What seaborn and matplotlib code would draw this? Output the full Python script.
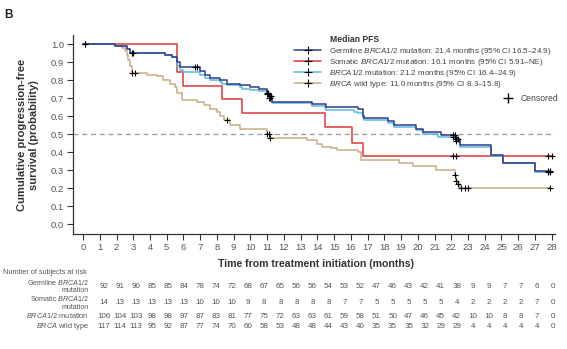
import numpy as np
import pandas as pd
import matplotlib
matplotlib.use("Agg")
import matplotlib.pyplot as plt
from matplotlib.lines import Line2D
import seaborn as sns

# ---------------- data ----------------
months = list(range(0, 29))

germ_t = [0, 1.9, 2.6, 2.8, 4.9, 5.3, 5.6, 5.8, 7.0, 7.3, 7.6, 8.2, 8.6, 9.4, 10.0, 10.5,
          11.0, 11.1, 11.3, 13.7, 14.5, 16.4, 16.7, 16.8, 18.2, 18.6, 19.9, 20.3, 21.4,
          22.3, 22.5, 24.4, 25.1, 27.0, 27.9]
germ_s = [1.0, 0.99, 0.97, 0.95, 0.94, 0.93, 0.90, 0.87, 0.85, 0.83, 0.81, 0.80, 0.78, 0.77,
          0.76, 0.75, 0.73, 0.71, 0.68, 0.665, 0.65, 0.64, 0.60, 0.59, 0.57, 0.55, 0.53, 0.51,
          0.495, 0.47, 0.44, 0.383, 0.34, 0.295, 0.295]
germ_c = [0.1, 2.9, 3.0, 6.7, 6.8, 11.0, 11.05, 11.15, 11.25, 22.1, 22.2, 22.3, 22.4, 27.8, 27.9]

soma_t = [0, 5.6, 6.0, 8.3, 9.5, 14.45, 16.1, 16.7, 28.0]
soma_s = [1.0, 0.846, 0.769, 0.692, 0.615, 0.538, 0.449, 0.377, 0.377]
soma_c = [0.1, 22.1, 22.3, 27.8, 28.0]

brca_t = [0, 1.9, 2.6, 2.8, 4.9, 5.3, 5.6, 5.8, 6.0, 7.0, 7.3, 7.6, 8.2, 8.3, 8.6, 9.4, 9.5,
          10.0, 10.5, 11.0, 11.1, 11.3, 13.7, 14.45, 14.5, 16.2, 16.4, 16.7, 16.8, 18.2, 18.6,
          19.9, 20.3, 21.2, 22.3, 22.5, 24.4, 25.1, 27.0, 27.9]
brca_s = [1.0, 0.99, 0.97, 0.95, 0.94, 0.93, 0.88, 0.855, 0.845, 0.83, 0.81, 0.80, 0.79, 0.78,
          0.77, 0.76, 0.75, 0.745, 0.74, 0.72, 0.70, 0.67, 0.655, 0.645, 0.635, 0.625, 0.615,
          0.59, 0.58, 0.56, 0.54, 0.52, 0.50, 0.485, 0.46, 0.43, 0.38, 0.34, 0.29, 0.29]
brca_c = [11.0, 11.1, 11.2, 22.1, 22.2, 22.3, 27.8, 27.9]

wild_t = [0, 1.9, 2.3, 2.5, 2.6, 2.7, 2.8, 2.9, 3.8, 4.4, 4.8, 5.2, 5.5, 5.6, 5.9, 6.8, 7.2,
          7.6, 8.0, 8.2, 8.4, 8.8, 9.4, 11.0, 11.2, 13.4, 14.0, 14.3, 14.8, 15.2, 16.4, 16.6,
          18.9, 19.7, 21.1, 22.2, 22.3, 22.4, 22.5, 27.9]
wild_s = [1.0, 0.99, 0.98, 0.96, 0.94, 0.91, 0.88, 0.84, 0.83, 0.82, 0.80, 0.78, 0.76, 0.73,
          0.69, 0.68, 0.66, 0.64, 0.62, 0.60, 0.58, 0.55, 0.53, 0.50, 0.48, 0.467, 0.445, 0.43,
          0.42, 0.41, 0.40, 0.355, 0.34, 0.32, 0.30, 0.27, 0.24, 0.22, 0.20, 0.20]
wild_c = [2.95, 3.1, 8.6, 11.0, 11.1, 11.2, 22.2, 22.3, 22.4, 22.6, 22.8, 23.0, 27.9]

risk_germ = [92, 91, 90, 85, 85, 84, 78, 74, 72, 68, 67, 65, 56, 56, 54, 53, 52, 47, 46, 43, 42,
             41, 38, 9, 9, 7, 7, 6, 0]
risk_soma = [14, 13, 13, 13, 13, 13, 10, 10, 10, 9, 8, 8, 8, 8, 8, 7, 7, 5, 5, 5, 5, 5, 4, 2, 2,
             2, 2, 7, 0]
risk_brca = [106, 104, 103, 98, 98, 97, 87, 83, 81, 77, 75, 72, 63, 63, 61, 59, 58, 51, 50, 47,
             46, 45, 42, 10, 10, 8, 8, 7, 0]
risk_wild = [117, 114, 113, 95, 92, 87, 77, 74, 70, 60, 58, 53, 48, 48, 44, 43, 40, 35, 35, 35,
             32, 29, 29, 4, 4, 4, 4, 4, 0]

labels = [
    "Germline $\\it{BRCA}$1/2 mutation: 21.4 months (95% CI 16.5\u201324.9)",
    "Somatic $\\it{BRCA}$1/2 mutation: 16.1 months (95% CI 5.91\u2013NE)",
    "$\\it{BRCA}$1/2 mutation: 21.2 months (95% CI 16.4\u201324.9)",
    "$\\it{BRCA}$ wild type: 11.0 months (95% CI 8.3\u201315.8)",
]
row_labels = [["Germline $\\it{BRCA}$1/2", "mutation"],
              ["Somatic $\\it{BRCA}$1/2", "mutation"],
              ["$\\it{BRCA}$1/2 mutation"],
              ["$\\it{BRCA}$ wild type"]]

C_GERM = "#2e3c8a"
C_SOMA = "#d8393b"
C_BRCA = "#5cbbd9"
C_WILD = "#c8ad84"

# ---------------- style ----------------
sns.set_theme(style="ticks")
plt.rcParams["font.family"] = ["Liberation Sans", "DejaVu Sans"]
plt.rcParams["mathtext.fontset"] = "custom"
plt.rcParams["mathtext.rm"] = "Liberation Sans"
plt.rcParams["mathtext.it"] = "Liberation Sans:italic"
plt.rcParams["mathtext.bf"] = "Liberation Sans:bold"

W, H = 567, 349
fig = plt.figure(figsize=(W / 100, H / 100), dpi=100)
ax = fig.add_axes([73 / W, 1 - 234 / H, (555 - 73) / W, (234 - 35) / H])

def surv_at(t_list, s_list, times):
    t_arr = np.asarray(t_list)
    s_arr = np.asarray(s_list)
    idx = np.searchsorted(t_arr, np.asarray(times), side="right") - 1
    return s_arr[np.clip(idx, 0, len(s_arr) - 1)]

ax.axhline(0.5, color="#9a9a9a", lw=0.9, ls=(0, (4, 3)), zorder=1)

series = [
    (wild_t, wild_s, wild_c, C_WILD),
    (soma_t, soma_s, soma_c, C_SOMA),
    (brca_t, brca_s, brca_c, C_BRCA),
    (germ_t, germ_s, germ_c, C_GERM),
]
for t, s, c, col in series:
    df = pd.DataFrame({"t": t, "s": s})
    sns.lineplot(data=df, x="t", y="s", drawstyle="steps-post", color=col, lw=1.1,
                 estimator=None, sort=False, ax=ax, zorder=3)
for t, s, c, col in series:
    cdf = pd.DataFrame({"t": c, "s": surv_at(t, s, c)})
    sns.scatterplot(data=cdf, x="t", y="s", marker="+", color="black", s=22,
                    linewidth=0.8, ax=ax, zorder=5)

ax.set_xlim(-0.6, 28.2)
ax.set_ylim(-0.055, 1.05)
ax.set_xticks(months)
ax.set_yticks(np.arange(0, 1.01, 0.1))
ax.set_yticklabels([f"{v:.1f}" for v in np.arange(0, 1.01, 0.1)])
ax.tick_params(axis="both", labelsize=6.8, colors="#333333", labelcolor="#555555",
               length=4, width=0.8, pad=2.5)
ax.set_xlabel("")
ax.set_ylabel("")
sns.despine(ax=ax)
for sp in ("left", "bottom"):
    ax.spines[sp].set_color("#333333")
    ax.spines[sp].set_linewidth(0.9)

# legends
handles = []
for col in (C_GERM, C_SOMA, C_BRCA, C_WILD):
    handles.append((Line2D([], [], color=col, lw=1.1),
                    Line2D([], [], color="black", marker="+", ls="None", ms=6, mew=0.8)))
leg = ax.legend(handles, labels, loc="upper left",
                bbox_to_anchor=(294 / W, 1 - 46 / H), bbox_transform=fig.transFigure,
                frameon=False, fontsize=5.8, handlelength=3.4, handletextpad=0.9,
                labelspacing=0.0, borderpad=0, borderaxespad=0)
for txt in leg.get_texts():
    txt.set_color("#444444")
ax.add_artist(leg)
leg2 = ax.legend([Line2D([], [], color="black", marker="+", ls="None", ms=7, mew=1.0)],
                 ["Censored"], loc="upper right",
                 bbox_to_anchor=(558 / W, 1 - 94 / H), bbox_transform=fig.transFigure,
                 frameon=False, fontsize=6.2, handlelength=1.2, handletextpad=0.8,
                 borderpad=0, borderaxespad=0)
leg2.get_texts()[0].set_color("#444444")
fig.text(330 / W, 1 - 40 / H, "Median PFS", fontsize=6.2, fontweight="bold",
         color="#333333", ha="left", va="center")

# titles / labels
fig.text(4 / W, 1 - 15 / H, "B", fontsize=8.5, fontweight="bold", color="#222222",
         ha="left", va="center")
fig.text(28 / W, 1 - 135 / H, "Cumulative progression-free\nsurvival (probability)",
         rotation=90, fontsize=8, fontweight="bold", color="#333333",
         ha="center", va="center", multialignment="center", linespacing=1.15)
fig.text(316 / W, 1 - 264 / H, "Time from treatment initiation (months)", fontsize=7.6,
         fontweight="bold", color="#333333", ha="center", va="center")

# risk table
fig.text(3 / W, 1 - 272 / H, "Number of subjects at risk", fontsize=5.2,
         color="#555555", ha="left", va="center")
rows = [(risk_germ, 286.5), (risk_soma, 303), (risk_brca, 316), (risk_wild, 326)]
xs = np.linspace(104 / W, 553 / W, len(months))
for (vals, ypx), lab in zip(rows, row_labels):
    if len(lab) == 2:
        fig.text(89 / W, 1 - (ypx - 4.1) / H, lab[0], fontsize=5.1, color="#555555",
                 ha="right", va="center")
        fig.text(89 / W, 1 - (ypx + 4.1) / H, lab[1], fontsize=5.1, color="#555555",
                 ha="right", va="center")
    else:
        fig.text(89 / W, 1 - ypx / H, lab[0], fontsize=5.3, color="#555555",
                 ha="right", va="center")
    for x, v in zip(xs, vals):
        fig.text(x, 1 - ypx / H, str(v), fontsize=5.8, color="#555555",
                 ha="center", va="center")

fig.savefig("out.png", dpi=100)
